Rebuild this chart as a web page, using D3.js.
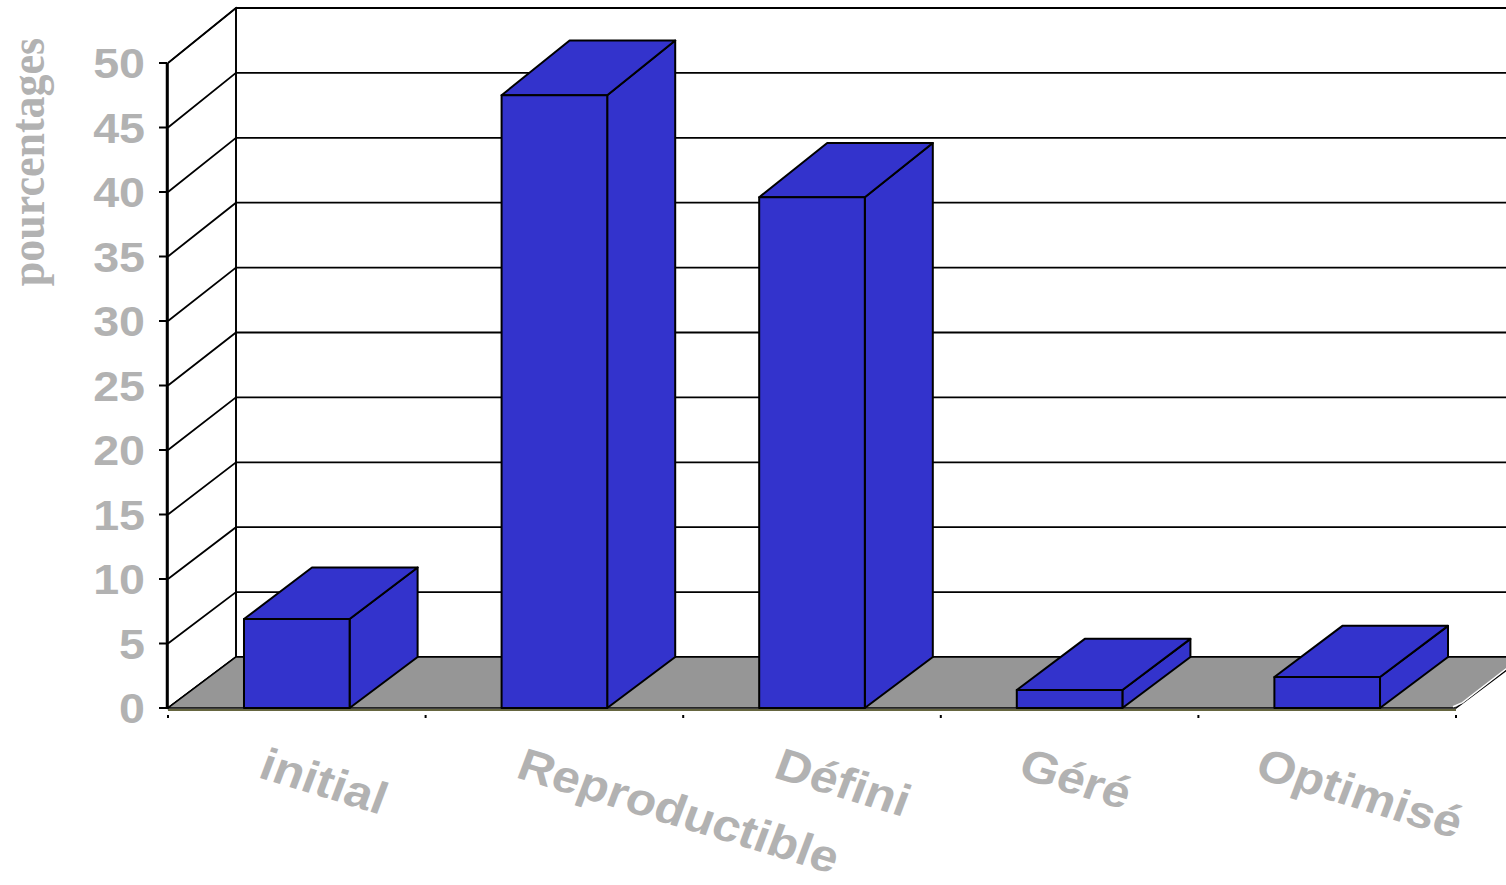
<!DOCTYPE html>
<html>
<head>
<meta charset="utf-8">
<script src="https://cdn.jsdelivr.net/npm/d3@7"></script>
<style>
  html, body { margin: 0; padding: 0; background: #fff; }
  svg { display: block; }
</style>
</head>
<body>
<svg id="chart" width="1506" height="885"></svg>
<script>
// Maturity levels and share of respondents (%)
const categories = ["initial", "Reproductible", "Défini", "Géré", "Optimisé"];
const values = [6.9, 47.5, 39.6, 1.4, 2.4];
const yTicks = [0, 5, 10, 15, 20, 25, 30, 35, 40, 45, 50];
const yTitle = "pourcentages";

const svg = d3.select("#chart");

// Oblique 3D layout: front plane and back plane, shifted by a depth offset
const depthX = 68;
const x = d3.scaleBand().domain(categories).range([168, 1456]);
const yFront = d3.scaleLinear().domain([0, 50]).range([708, 63]);
const yBack = d3.scaleLinear().domain([0, 50]).range([657, 8]);
const xEnd = x.range()[1];
const textStretch = 1.11; // text is drawn slightly wide

// project (px on front plane, value, depth 0..1)
function P(px, v, d) {
  return [px + depthX * d, yFront(v) * (1 - d) + yBack(v) * d];
}
const line = d3.line();

const gray = "#b2b2b2";

// Back wall
const wall = svg.append("g");
wall.append("path")
  .attr("d", line([P(168, 0, 1), P(168, 50, 1), P(xEnd + 200, 50, 1), P(xEnd + 200, 0, 1)]) + "Z")
  .attr("fill", "#fff").attr("stroke", "none");
// Side wall
wall.append("path")
  .attr("d", line([P(168, 0, 0), P(168, 50, 0), P(168, 50, 1), P(168, 0, 1)]) + "Z")
  .attr("fill", "#fff").attr("stroke", "#000").attr("stroke-width", 1.5);

// Gridlines on back wall and side wall
yTicks.forEach(t => {
  wall.append("path")
    .attr("d", line([P(168, t, 0), P(168, t, 1), P(xEnd + 200, t, 1)]))
    .attr("fill", "none").attr("stroke", "#000").attr("stroke-width", 1.8);
});
// Back corner
wall.append("path")
  .attr("d", line([P(168, 0, 1), P(168, 50, 1)]))
  .attr("stroke", "#000").attr("stroke-width", 1.8);

// Floor
const floor = svg.append("g");
floor.append("path")
  .attr("d", line([P(168, 0, 0), P(xEnd, 0, 0), P(xEnd, 0, 1), P(168, 0, 1)]) + "Z")
  .attr("fill", "#969696").attr("stroke", "#000").attr("stroke-width", 1.5);
floor.append("path")
  .attr("d", line([P(xEnd - 3, 0.1, 0), P(xEnd + 1, 0.1, 0.08), P(xEnd - 1, 0.1, 1)]))
  .attr("fill", "none").attr("stroke", "#fff").attr("stroke-width", 1.5);
floor.append("path")
  .attr("d", line([[168, yFront(0) + 2], [xEnd, yFront(0) + 2]]))
  .attr("stroke", "#333300").attr("stroke-width", 1.5);

// Bars
const barW = x.bandwidth() * 0.41;
const bars = svg.append("g");
categories.forEach((c, i) => {
  const v = values[i];
  const x0 = x(c) + (x.bandwidth() - barW) / 2;
  const x1 = x0 + barW;
  const g = bars.append("g")
    .attr("fill", "#3333cc").attr("stroke", "#000")
    .attr("stroke-width", 2).attr("stroke-linejoin", "round");
  // right side
  g.append("path").attr("d", line([P(x1, 0, 0), P(x1, v, 0), P(x1, v, 1), P(x1, 0, 1)]) + "Z");
  // top
  g.append("path").attr("d", line([P(x0, v, 0), P(x1, v, 0), P(x1, v, 1), P(x0, v, 1)]) + "Z");
  // front
  g.append("path").attr("d", line([P(x0, 0, 0), P(x1, 0, 0), P(x1, v, 0), P(x0, v, 0)]) + "Z");
});

// Value axis
const axisG = svg.append("g");
axisG.append("line")
  .attr("x1", 167).attr("x2", 167)
  .attr("y1", yFront(0) + 1).attr("y2", yFront(50))
  .attr("stroke", "#000").attr("stroke-width", 2.5);
yTicks.forEach(t => {
  axisG.append("line")
    .attr("x1", 159).attr("x2", 167)
    .attr("y1", yFront(t)).attr("y2", yFront(t))
    .attr("stroke", "#000").attr("stroke-width", 2);
  axisG.append("text")
    .attr("transform", `translate(145,${yFront(t)}) scale(${textStretch},1)`)
    .attr("dy", "0.36em")
    .attr("text-anchor", "end")
    .attr("font-family", "Liberation Sans, Arial, sans-serif")
    .attr("font-weight", "bold").attr("font-size", 42)
    .attr("fill", gray)
    .text(t);
});

// Category tick marks
const bounds = categories.map(c => x(c)).concat([xEnd]);
bounds.forEach(b => {
  axisG.append("rect")
    .attr("x", b - 1).attr("y", 715)
    .attr("width", 2).attr("height", 3)
    .attr("fill", "#000");
});

// Category labels (rotated); the last two are pulled left a little
const labelShift = { "Géré": -13, "Optimisé": -34 };
categories.forEach(c => {
  const cx = x(c) + x.bandwidth() / 2 - 40 + (labelShift[c] || 0);
  axisG.append("text")
    .attr("transform", `translate(${cx},777) scale(${textStretch},1) rotate(18.7)`)
    .attr("font-family", "Liberation Sans, Arial, sans-serif")
    .attr("font-weight", "bold").attr("font-size", 45)
    .attr("fill", gray)
    .text(c);
});

// Axis title
svg.append("text")
  .attr("transform", `translate(44,162) scale(${textStretch},1) rotate(-90)`)
  .attr("text-anchor", "middle")
  .attr("font-family", "Liberation Serif, Times New Roman, serif")
  .attr("font-weight", "bold").attr("font-size", 44)
  .attr("fill", gray)
  .text(yTitle);
</script>
</body>
</html>
